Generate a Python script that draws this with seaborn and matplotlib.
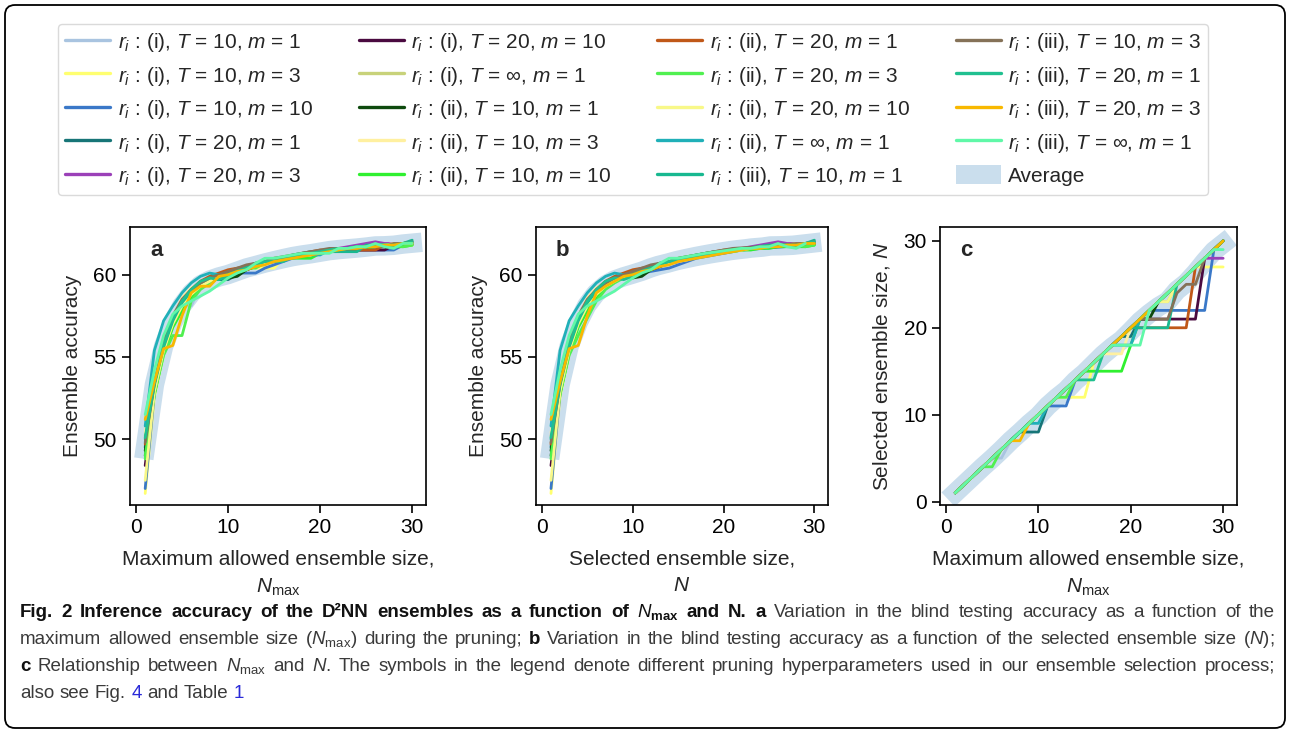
import numpy as np
import pandas as pd
import matplotlib
matplotlib.use("Agg")
import matplotlib.pyplot as plt
import seaborn as sns
from matplotlib.lines import Line2D
from matplotlib.patches import Patch, FancyBboxPatch
from matplotlib.transforms import IdentityTransform

# x axis: maximum allowed ensemble size
nMax = np.arange(1, 31)

seriesLabels = [
    r"$r_i$ : (i), $T$ = 10, $m$ = 1",
    r"$r_i$ : (i), $T$ = 10, $m$ = 3",
    r"$r_i$ : (i), $T$ = 10, $m$ = 10",
    r"$r_i$ : (i), $T$ = 20, $m$ = 1",
    r"$r_i$ : (i), $T$ = 20, $m$ = 3",
    r"$r_i$ : (i), $T$ = 20, $m$ = 10",
    r"$r_i$ : (i), $T$ = ∞, $m$ = 1",
    r"$r_i$ : (ii), $T$ = 10, $m$ = 1",
    r"$r_i$ : (ii), $T$ = 10, $m$ = 3",
    r"$r_i$ : (ii), $T$ = 10, $m$ = 10",
    r"$r_i$ : (ii), $T$ = 20, $m$ = 1",
    r"$r_i$ : (ii), $T$ = 20, $m$ = 3",
    r"$r_i$ : (ii), $T$ = 20, $m$ = 10",
    r"$r_i$ : (ii), $T$ = ∞, $m$ = 1",
    r"$r_i$ : (iii), $T$ = 10, $m$ = 1",
    r"$r_i$ : (iii), $T$ = 10, $m$ = 3",
    r"$r_i$ : (iii), $T$ = 20, $m$ = 1",
    r"$r_i$ : (iii), $T$ = 20, $m$ = 3",
    r"$r_i$ : (iii), $T$ = ∞, $m$ = 1",
]

seriesColors = [
    "#a9c4e0", "#ffff70", "#3a78c8", "#177577", "#9b40b8",
    "#4a0a40", "#c8d27a", "#0e4a0e", "#fff0a0", "#30f030",
    "#c05818", "#50f050", "#f8f888", "#20b0b8", "#18b890",
    "#857258", "#20c090", "#f8b800", "#60f8a8",
]

# ensemble accuracy vs N_max
acc01 = [49.6, 53.0, 55.5, 57.0, 58.1, 58.1, 59.3, 59.7, 59.9, 60.1,
         60.2, 60.5, 60.6, 60.7, 60.9, 61.0, 61.1, 61.2, 61.3, 61.3,
         61.4, 61.5, 61.6, 61.6, 61.7, 61.7, 61.8, 61.8, 61.8, 61.9]
acc02 = [46.7, 52.6, 55.2, 56.9, 58.0, 58.7, 59.2, 59.6, 59.8, 60.0,
         60.2, 60.4, 60.4, 60.4, 60.4, 61.0, 61.1, 61.2, 61.3, 61.4,
         61.5, 61.5, 61.6, 61.7, 61.7, 61.8, 61.8, 61.8, 61.8, 61.8]
acc03 = [47.0, 52.8, 55.3, 57.0, 58.1, 58.8, 59.3, 59.6, 59.8, 59.9,
         60.1, 60.1, 60.1, 60.4, 60.6, 60.8, 61.0, 61.1, 61.2, 61.3,
         61.4, 61.5, 61.5, 61.5, 61.5, 61.5, 61.5, 61.5, 61.8, 61.9]
acc04 = [49.5, 53.4, 55.8, 57.3, 58.4, 59.1, 59.5, 59.7, 59.7, 59.7,
         60.0, 60.3, 60.5, 60.7, 60.8, 61.0, 61.1, 61.2, 61.3, 61.3,
         61.5, 61.5, 61.6, 61.7, 61.7, 61.8, 61.8, 61.9, 61.9, 61.9]
acc05 = [49.0, 53.1, 55.6, 57.2, 58.3, 58.8, 59.3, 59.7, 59.9, 60.1,
         60.3, 60.5, 60.6, 60.8, 60.9, 61.0, 61.1, 61.2, 61.3, 61.4,
         61.5, 61.6, 61.7, 61.8, 61.9, 62.0, 61.9, 61.9, 61.9, 61.9]
acc06 = [48.4, 52.9, 55.4, 57.1, 58.2, 58.9, 59.4, 59.7, 59.9, 60.1,
         60.3, 60.5, 60.6, 60.7, 60.8, 61.0, 61.1, 61.2, 61.3, 61.4,
         61.5, 61.5, 61.5, 61.5, 61.5, 61.5, 61.5, 61.8, 61.9, 61.9]
acc07 = [50.2, 53.5, 55.7, 57.2, 58.3, 59.0, 59.4, 59.7, 59.9, 60.0,
         60.2, 60.4, 60.6, 60.7, 60.9, 61.0, 61.1, 61.2, 61.3, 61.4,
         61.5, 61.5, 61.6, 61.6, 61.7, 61.8, 61.8, 61.8, 61.9, 61.9]
acc08 = [49.3, 53.1, 55.5, 57.1, 58.3, 59.0, 59.5, 59.8, 59.9, 59.8,
         59.9, 60.3, 60.5, 60.7, 60.9, 61.0, 61.1, 61.2, 61.3, 61.4,
         61.5, 61.5, 61.6, 61.7, 61.7, 61.8, 61.8, 61.8, 61.9, 61.9]
acc09 = [50.4, 53.6, 55.8, 57.4, 58.6, 59.2, 59.5, 59.8, 60.0, 60.1,
         60.3, 60.5, 60.6, 60.7, 60.8, 60.9, 61.1, 61.1, 61.1, 61.4,
         61.4, 61.5, 61.6, 61.6, 61.7, 61.8, 61.8, 61.8, 61.9, 61.9]
acc10 = [49.0, 52.7, 55.2, 56.8, 57.8, 58.6, 59.2, 59.6, 59.8, 60.0,
         60.2, 60.4, 60.6, 60.7, 61.0, 61.0, 61.0, 61.0, 61.0, 61.3,
         61.4, 61.5, 61.5, 61.6, 61.6, 61.7, 61.7, 61.7, 61.7, 61.8]
acc11 = [49.7, 53.3, 55.7, 57.3, 58.4, 59.1, 59.6, 59.9, 60.1, 60.3,
         60.4, 60.5, 60.6, 60.8, 60.9, 61.0, 61.1, 61.3, 61.4, 61.5,
         61.5, 61.5, 61.5, 61.5, 61.5, 61.5, 61.8, 61.8, 61.9, 61.9]
acc12 = [48.8, 52.8, 55.1, 56.3, 56.3, 58.4, 59.1, 59.5, 59.8, 60.0,
         60.2, 60.4, 60.4, 60.7, 60.9, 61.0, 61.1, 61.2, 61.3, 61.4,
         61.5, 61.6, 61.6, 61.7, 61.7, 61.8, 61.8, 61.8, 61.7, 61.8]
acc13 = [47.5, 52.9, 55.4, 57.0, 58.1, 58.8, 59.3, 59.6, 59.9, 60.1,
         60.3, 60.4, 60.6, 60.7, 60.9, 61.0, 61.1, 61.2, 61.3, 61.4,
         61.5, 61.5, 61.6, 61.6, 61.7, 61.8, 61.8, 61.9, 61.9, 62.0]
acc14 = [50.8, 55.4, 57.2, 58.1, 58.9, 59.5, 59.9, 60.1, 60.0, 60.0,
         60.2, 60.5, 60.7, 60.8, 60.9, 61.0, 61.1, 61.2, 61.2, 61.2,
         61.5, 61.6, 61.6, 61.7, 61.7, 61.8, 61.8, 61.8, 61.9, 62.0]
acc15 = [50.0, 53.3, 55.6, 57.2, 58.3, 59.0, 59.5, 59.8, 60.0, 60.1,
         60.3, 60.5, 60.7, 60.8, 60.9, 61.0, 61.2, 61.3, 61.4, 61.4,
         61.4, 61.4, 61.4, 61.4, 61.8, 61.8, 61.8, 61.8, 61.9, 62.1]
acc16 = [49.8, 53.4, 55.9, 57.5, 58.5, 59.1, 59.5, 59.8, 60.0, 60.2,
         60.4, 60.6, 60.7, 60.8, 61.0, 61.1, 61.2, 61.3, 61.4, 61.5,
         61.6, 61.6, 61.6, 61.6, 61.7, 61.7, 61.7, 61.9, 61.9, 62.0]
acc17 = [50.1, 53.4, 55.7, 57.3, 58.4, 59.1, 59.6, 59.8, 59.7, 59.9,
         60.2, 60.4, 60.6, 60.8, 60.8, 60.8, 61.1, 61.2, 61.3, 61.4,
         61.5, 61.6, 61.6, 61.7, 61.7, 61.8, 61.8, 61.8, 61.9, 62.0]
acc18 = [51.2, 53.5, 55.5, 55.7, 57.5, 58.9, 59.3, 59.3, 59.9, 60.0,
         60.2, 60.3, 60.5, 60.6, 60.8, 60.9, 61.0, 61.1, 61.2, 61.3,
         61.4, 61.5, 61.6, 61.6, 61.7, 61.7, 61.8, 61.8, 61.9, 61.9]
acc19 = [51.5, 54.2, 56.3, 57.6, 58.1, 58.4, 58.7, 59.0, 59.4, 59.8,
         60.1, 60.3, 60.7, 61.0, 61.0, 61.1, 61.2, 61.3, 61.3, 61.3,
         61.3, 61.6, 61.6, 61.7, 61.7, 61.9, 61.7, 61.6, 61.9, 61.9]

# selected ensemble size N vs N_max
size01 = [1, 2, 3, 4, 5, 5, 7, 8, 9, 10, 11, 12, 13, 14, 15,
          16, 17, 18, 19, 20, 21, 22, 23, 24, 25, 26, 27, 28, 29, 30]
size02 = [1, 2, 3, 4, 5, 6, 7, 8, 9, 10, 11, 12, 12, 12, 12,
          16, 17, 18, 19, 20, 21, 22, 23, 24, 25, 26, 27, 27, 27, 27]
size03 = [1, 2, 3, 4, 5, 6, 7, 8, 9, 10, 11, 11, 11, 14, 15,
          16, 17, 18, 19, 20, 21, 22, 22, 22, 22, 22, 22, 22, 29, 30]
size04 = [1, 2, 3, 4, 5, 6, 7, 8, 8, 8, 11, 12, 13, 14, 15,
          16, 17, 18, 19, 19, 21, 22, 23, 24, 25, 26, 27, 28, 29, 30]
size05 = [1, 2, 3, 4, 5, 6, 7, 8, 9, 10, 11, 12, 13, 14, 15,
          16, 17, 18, 19, 20, 21, 22, 23, 24, 25, 26, 27, 28, 28, 28]
size06 = [1, 2, 3, 4, 5, 6, 7, 8, 9, 10, 11, 12, 13, 14, 15,
          16, 17, 18, 19, 20, 21, 21, 21, 21, 21, 21, 21, 28, 29, 30]
size07 = [1, 2, 3, 4, 5, 6, 7, 8, 9, 10, 11, 12, 13, 14, 15,
          16, 17, 18, 19, 20, 21, 22, 23, 23, 25, 26, 27, 28, 29, 30]
size08 = [1, 2, 3, 4, 5, 6, 7, 8, 9, 10, 11, 12, 13, 14, 15,
          16, 17, 18, 19, 20, 21, 21, 23, 24, 25, 26, 27, 28, 29, 30]
size09 = [1, 2, 3, 4, 5, 6, 7, 8, 9, 10, 11, 12, 13, 14, 15,
          16, 17, 17, 17, 20, 21, 22, 23, 24, 25, 26, 27, 28, 29, 30]
size10 = [1, 2, 3, 4, 5, 6, 7, 8, 9, 10, 11, 12, 13, 14, 15,
          15, 15, 15, 15, 18, 21, 22, 23, 24, 25, 26, 27, 28, 29, 30]
size11 = [1, 2, 3, 4, 5, 6, 7, 8, 9, 10, 11, 12, 13, 14, 15,
          16, 17, 18, 19, 20, 20, 20, 20, 20, 20, 20, 27, 28, 29, 30]
size12 = [1, 2, 3, 4, 4, 6, 7, 8, 9, 10, 11, 12, 12, 14, 15,
          16, 17, 18, 19, 20, 21, 22, 23, 24, 25, 26, 27, 28, 29, 30]
size13 = [1, 2, 3, 4, 5, 6, 7, 8, 9, 10, 11, 12, 13, 14, 15,
          16, 17, 18, 19, 20, 21, 22, 23, 23, 25, 26, 27, 28, 29, 30]
size14 = [1, 2, 3, 4, 5, 6, 7, 8, 9, 9, 11, 12, 13, 14, 15,
          16, 17, 18, 18, 18, 21, 22, 23, 24, 25, 26, 27, 28, 29, 30]
size15 = [1, 2, 3, 4, 5, 6, 7, 8, 9, 10, 11, 12, 13, 14, 15,
          16, 17, 18, 19, 20, 20, 20, 20, 20, 25, 26, 27, 28, 29, 30]
size16 = [1, 2, 3, 4, 5, 6, 7, 8, 9, 10, 11, 12, 13, 14, 15,
          16, 17, 18, 19, 20, 21, 21, 21, 21, 24, 25, 25, 28, 29, 30]
size17 = [1, 2, 3, 4, 5, 6, 7, 8, 9, 10, 11, 12, 13, 14, 14,
          14, 17, 18, 19, 20, 21, 22, 23, 24, 25, 26, 27, 28, 29, 30]
size18 = [1, 2, 3, 4, 5, 6, 7, 7, 9, 10, 11, 12, 13, 14, 15,
          16, 17, 18, 19, 20, 21, 22, 23, 24, 25, 26, 27, 28, 29, 30]
size19 = [1, 2, 3, 4, 5, 6, 7, 8, 9, 10, 11, 12, 13, 14, 15,
          16, 17, 18, 18, 18, 18, 22, 23, 24, 25, 26, 27, 28, 29, 29]

accList = [acc01, acc02, acc03, acc04, acc05, acc06, acc07, acc08, acc09, acc10,
           acc11, acc12, acc13, acc14, acc15, acc16, acc17, acc18, acc19]
sizeList = [size01, size02, size03, size04, size05, size06, size07, size08, size09, size10,
            size11, size12, size13, size14, size15, size16, size17, size18, size19]

# long-form table for seaborn
rows = []
for label, accVals, sizeVals in zip(seriesLabels, accList, sizeList):
    for n, a, s in zip(nMax, accVals, sizeVals):
        rows.append({"label": label, "nMax": n, "acc": a, "size": s})
df = pd.DataFrame(rows)
palette = dict(zip(seriesLabels, seriesColors))

avgAcc = np.mean(np.array(accList), axis=0)
avgSize = np.mean(np.array(sizeList), axis=0)

sns.set_style("ticks")
plt.rcParams["font.family"] = ["Liberation Sans", "DejaVu Sans"]
plt.rcParams["mathtext.fontset"] = "custom"
plt.rcParams["mathtext.rm"] = "Liberation Sans"
plt.rcParams["mathtext.it"] = "Liberation Sans:italic"
plt.rcParams["mathtext.bf"] = "Liberation Sans:bold"
plt.rcParams["axes.edgecolor"] = "black"
plt.rcParams["axes.linewidth"] = 1.2
for ax_ in ("xtick", "ytick"):
    plt.rcParams[ax_ + ".color"] = "black"
    plt.rcParams[ax_ + ".major.size"] = 6
    plt.rcParams[ax_ + ".major.width"] = 1.2
    plt.rcParams[ax_ + ".labelsize"] = 15
    plt.rcParams[ax_ + ".direction"] = "out"

bandColor = "#cadeed"
W, H = 1290, 733
fig = plt.figure(figsize=(W / 100, H / 100), dpi=100)

axA = fig.add_axes([130 / W, 1 - 505 / H, 296 / W, 278 / H])
axB = fig.add_axes([536 / W, 1 - 505 / H, 292 / W, 278 / H])
axC = fig.add_axes([940 / W, 1 - 505 / H, 297 / W, 278 / H])

# a: accuracy vs N_max
axA.plot(nMax, avgAcc, lw=14, color=bandColor, solid_capstyle="projecting", zorder=1)
sns.lineplot(data=df, x="nMax", y="acc", hue="label", hue_order=seriesLabels,
             palette=palette, estimator=None, sort=False, legend=False, lw=2, ax=axA)
# b: accuracy vs selected size N
axB.plot(avgSize, avgAcc, lw=14, color=bandColor, solid_capstyle="projecting", zorder=1)
sns.lineplot(data=df, x="size", y="acc", hue="label", hue_order=seriesLabels,
             palette=palette, estimator=None, sort=False, legend=False, lw=2, ax=axB)
# c: N vs N_max
axC.plot(nMax, avgSize, lw=14, color=bandColor, solid_capstyle="projecting", zorder=1)
sns.lineplot(data=df, x="nMax", y="size", hue="label", hue_order=seriesLabels,
             palette=palette, estimator=None, sort=False, legend=False, lw=2, ax=axC)

for ax, letter in zip((axA, axB, axC), ("a", "b", "c")):
    ax.set_xlim(-0.65, 31.5)
    ax.set_xticks([0, 10, 20, 30])
    ax.text(0.09, 0.915, letter, transform=ax.transAxes, fontsize=16,
            fontweight="bold", ha="center", va="center")
for ax in (axA, axB):
    ax.set_ylim(46.0, 62.9)
    ax.set_yticks([50, 55, 60])
    ax.set_ylabel("Ensemble accuracy", fontsize=15, labelpad=8.5)
axC.set_ylim(-0.4, 31.6)
axC.set_yticks([0, 10, 20, 30])
axC.set_ylabel("Selected ensemble size, $N$", fontsize=15, labelpad=8.5)

xlab = dict(fontsize=15, linespacing=1.5, labelpad=9)
axA.set_xlabel("Maximum allowed ensemble size,\n$N_{\\rm max}$", **xlab)
axB.set_xlabel("Selected ensemble size,\n$N$", **xlab)
axC.set_xlabel("Maximum allowed ensemble size,\n$N_{\\rm max}$", **xlab)

# legend on top
handles = [Line2D([], [], color=c, lw=2.4) for c in seriesColors]
handles.append(Patch(facecolor=bandColor, edgecolor="none"))
fig.legend(handles, seriesLabels + ["Average"], ncol=4, loc="upper left",
           bbox_to_anchor=(58 / W, 1 - 24 / H), borderaxespad=0,
           fontsize=15, handlelength=2.16, handleheight=1.05,
           handletextpad=0.36, columnspacing=2.2, labelspacing=0.5,
           borderpad=0.35, frameon=True, edgecolor="0.82", fancybox=True)

# outer rounded border
border = FancyBboxPatch((5, 5), 1280, 723, boxstyle="round,pad=0,rounding_size=10",
                        transform=IdentityTransform(), fill=False, lw=1.3, ec="black")
fig.add_artist(border)

# caption, justified word by word
renderer = fig.canvas.get_renderer()
capSize = 13.5
styleMap = {"r": ("normal", "#3a3a3a"), "b": ("bold", "#111111"), "u": ("normal", "#2a2ad8")}


def measure(s, weight):
    t = fig.text(0, 0, s, fontsize=capSize, fontweight=weight)
    w = t.get_window_extent(renderer).width
    t.remove()
    return w


spaceW = measure("a a", "normal") - measure("aa", "normal")


def caption_line(tokens, yBase, justify=True, x0=20, x1=1275):
    texts = []
    widths = []
    for s, st in tokens:
        weight, color = styleMap[st]
        t = fig.text(0, 0, s, fontsize=capSize, fontweight=weight, color=color,
                     ha="left", va="baseline")
        texts.append(t)
        widths.append(t.get_window_extent(renderer).width)
    gap = (x1 - x0 - sum(widths)) / (len(tokens) - 1) if justify else spaceW
    x = x0
    for t, w in zip(texts, widths):
        t.set_position((x / W, 1 - yBase / H))
        x += w + gap


def words(s, st):
    return [(w, st) for w in s.split(" ")]


line1 = (words("Fig. 2 Inference accuracy of the D²NN ensembles as a function of", "b")
         + [(r"$N_{\mathbf{max}}$", "b")] + words("and N. a", "b")
         + words("Variation in the blind testing accuracy as a function of the", "r"))
line2 = ([("maximum", "r"), ("allowed", "r"), ("ensemble", "r"), ("size", "r"),
          (r"($N_{\rm max}$)", "r")] + words("during the pruning;", "r") + [("b", "b")]
         + words("Variation in the blind testing accuracy as a function of the selected ensemble size", "r")
         + [(r"($N$);", "r")])
line3 = ([("c", "b")] + words("Relationship between", "r") + [(r"$N_{\rm max}$", "r")]
         + [("and", "r"), (r"$N$.", "r")]
         + words("The symbols in the legend denote different pruning hyperparameters used in our ensemble selection process;", "r"))
line4 = words("also see Fig.", "r") + [("4", "u")] + words("and Table", "r") + [("1", "u")]

caption_line(line1, 617)
caption_line(line2, 644)
caption_line(line3, 671)
caption_line(line4, 698, justify=False)

fig.savefig("out.png", dpi=100)
